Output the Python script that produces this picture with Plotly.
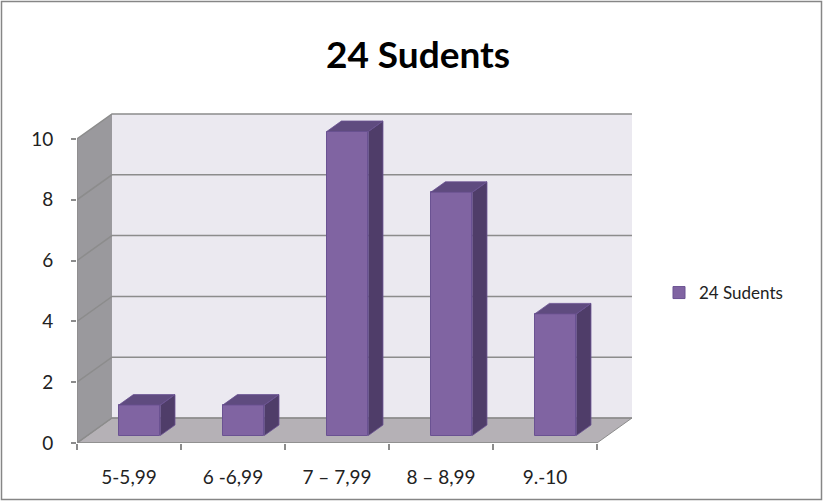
import plotly.graph_objects as go

# ---- data ----
categories = ["5-5,99", "6 -6,99", "7 \u2013 7,99", "8 \u2013 8,99", "9.-10"]
values = [1, 1, 10, 8, 4]
series_name = "24 Sudents"
title_text = "24 Sudents"
y_tick_values = [0, 2, 4, 6, 8, 10]

# ---- geometry / style constants ----
W, H = 823, 501
ML, MR, MT, MB = 77, 189, 113, 58
PW, PH = W - ML - MR, H - MT - MB
DX, DY = 0.3365, 0.822          # depth of the pseudo-3D box (axis units)
BAR_W = 0.40                     # bar width (category units)
F_FRONT, F_THICK = 0.30, 0.42    # bar front depth fraction, bar thickness fraction
YMAX_AXIS = 10
X_RANGE = [-0.5, 4.856]
Y_RANGE = [0, 10.855]

FRONT = "#8064A2"
SIDE = "#4F3D69"
TOP = "#5F4B7F"
EDGE = "#6A5292"
BACK_WALL = "#EBE9F0"
SIDE_WALL = "#9A999D"
FLOOR = "#B5B1B6"
GRID = "#8C8C8C"
FONT = "Lato, Carlito, 'Open Sans', sans-serif"

n = len(categories)
xs = list(range(n))
fdx, fdy = F_FRONT * DX, F_FRONT * DY
tdx, tdy = F_THICK * DX, F_THICK * DY

fig = go.Figure()
fig.add_trace(go.Bar(
    x=xs, y=values, base=fdy, width=BAR_W, offset=-BAR_W / 2 + fdx,
    name=series_name, showlegend=True,
    marker=dict(color=FRONT, line=dict(color=EDGE, width=1)),
))

shapes = []
xl, xr = X_RANGE[0], X_RANGE[0] + n
# back wall
shapes.append(dict(type="rect", xref="x", yref="y", x0=xl + DX, x1=xr + DX, y0=DY, y1=YMAX_AXIS + DY,
                   fillcolor=BACK_WALL, line=dict(width=0), layer="below"))
# left side wall
shapes.append(dict(type="path", xref="x", yref="y",
                   path=f"M{xl},0 L{xl+DX},{DY} L{xl+DX},{YMAX_AXIS+DY} L{xl},{YMAX_AXIS} Z",
                   fillcolor=SIDE_WALL, line=dict(width=0), layer="below"))
# floor
shapes.append(dict(type="path", xref="x", yref="y",
                   path=f"M{xl},0 L{xr},0 L{xr+DX},{DY} L{xl+DX},{DY} Z",
                   fillcolor=FLOOR, line=dict(color=GRID, width=1), layer="below"))
# gridlines along side wall and back wall
for k in y_tick_values:
    shapes.append(dict(type="path", xref="x", yref="y",
                       path=f"M{xl},{k} L{xl+DX},{k+DY} L{xr+DX},{k+DY}",
                       line=dict(color=GRID, width=1.5), layer="below"))
# axis lines (front plane)
shapes.append(dict(type="line", xref="x", yref="y", x0=xl, x1=xl, y0=0, y1=YMAX_AXIS,
                   line=dict(color=GRID, width=1.5), layer="below"))
shapes.append(dict(type="line", xref="x", yref="y", x0=xl, x1=xr, y0=0, y1=0,
                   line=dict(color=GRID, width=1.5), layer="below"))

# 3D faces of the bars (side + top), derived from the values
for i, v in enumerate(values):
    x0 = i - BAR_W / 2 + fdx
    x1 = x0 + BAR_W
    yb, yt = fdy, fdy + v
    shapes.append(dict(type="path", xref="x", yref="y",
                       path=f"M{x1},{yb} L{x1+tdx},{yb+tdy} L{x1+tdx},{yt+tdy} L{x1},{yt} Z",
                       fillcolor=SIDE, line=dict(color=EDGE, width=0.8), layer="above"))
    shapes.append(dict(type="path", xref="x", yref="y",
                       path=f"M{x0},{yt} L{x1},{yt} L{x1+tdx},{yt+tdy} L{x0+tdx},{yt+tdy} Z",
                       fillcolor=TOP, line=dict(color=EDGE, width=0.8), layer="above"))

# chart border (paper coordinates from pixels)
def px_x(p):
    return (p - ML) / PW

def px_y(p):
    return (H - MB - p) / PH

shapes.append(dict(type="rect", xref="paper", yref="paper",
                   x0=px_x(1.5), x1=px_x(W - 1.5), y0=px_y(H - 1.5), y1=px_y(1.5),
                   line=dict(color="#868686", width=1.5), fillcolor="rgba(0,0,0,0)"))

fig.update_layout(
    width=W, height=H,
    margin=dict(l=ML, r=MR, t=MT, b=MB, pad=0),
    paper_bgcolor="white", plot_bgcolor="rgba(0,0,0,0)",
    font=dict(family=FONT, size=19, color="#222222"),
    title=dict(text=f"<b>{title_text}</b>", font=dict(family=FONT, size=37, color="#000000"),
               xref="container", x=418 / W, xanchor="center",
               yref="container", y=1 - 55 / H, yanchor="middle"),
    shapes=shapes,
    bargap=0,
    showlegend=True,
    legend=dict(x=px_x(659), xanchor="left", y=px_y(293), yanchor="middle",
                font=dict(family=FONT, size=17, color="#222222"),
                bgcolor="rgba(0,0,0,0)", itemwidth=30),
    xaxis=dict(range=X_RANGE, tickmode="array", tickvals=xs, ticktext=categories,
               showgrid=False, zeroline=False, showline=False, ticks="",
               ticklabelstandoff=21,
               minor=dict(tickmode="array", tickvals=[i - 0.5 for i in range(n + 1)],
                          ticks="outside", ticklen=6, tickcolor=GRID, tickwidth=1.5, showgrid=False),
               fixedrange=True),
    yaxis=dict(range=Y_RANGE, tickmode="array", tickvals=y_tick_values,
               showgrid=False, zeroline=False, showline=False,
               ticks="outside", ticklen=5, tickcolor=GRID, tickwidth=1.5,
               ticklabelstandoff=14, fixedrange=True),
)

fig.write_html("out.html")
